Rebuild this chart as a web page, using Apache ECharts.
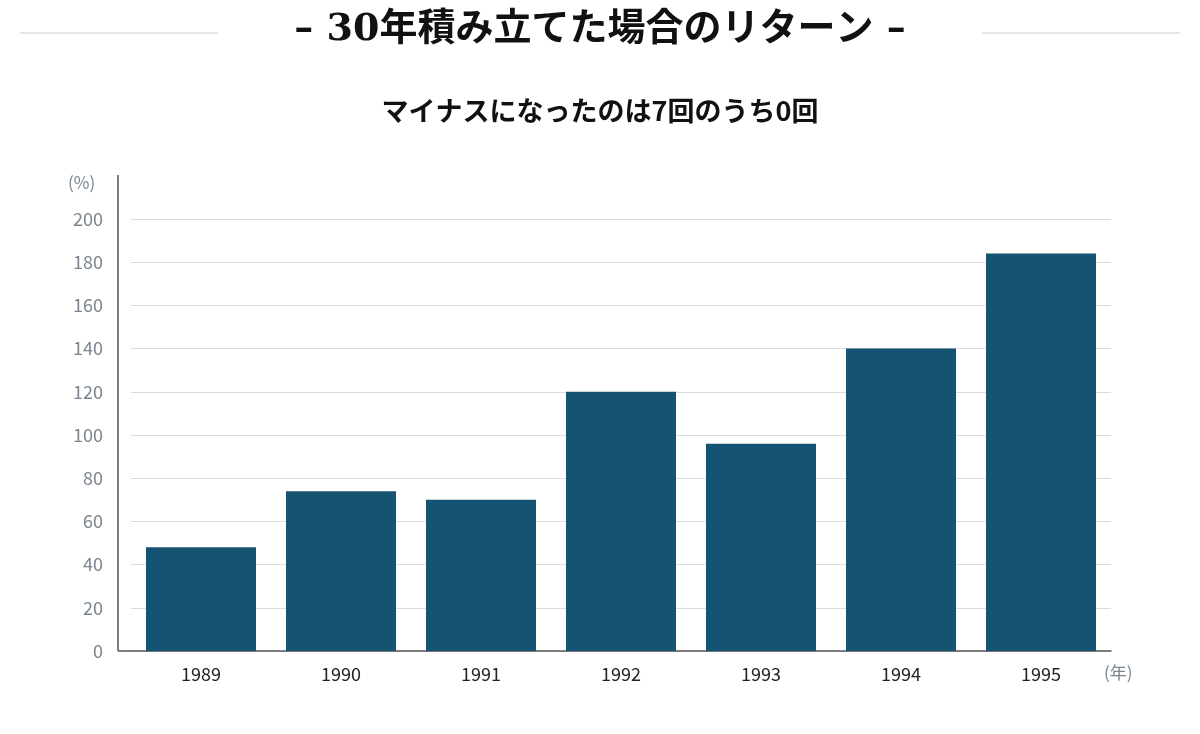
<!DOCTYPE html>
<html><head><meta charset="utf-8">
<script src="https://cdn.jsdelivr.net/npm/echarts@6/dist/echarts.min.js"></script>
<style>body{margin:0;background:#fff}#c{width:1200px;height:734px}</style>
</head><body><div id="c"></div>
<script>
var years = ['1989', '1990', '1991', '1992', '1993', '1994', '1995'];
var returns = [48, 74, 70, 120, 96, 140, 184];
var yTicks = [0, 200, 20]; // min, max, interval

var chart = echarts.init(document.getElementById('c'));
var option = {
	backgroundColor: '#fff',
	title: [{
		text: '– 30年積み立てた場合のリターン –',
		left: 'center', top: 6,
		textStyle: {fontFamily: 'DejaVu Serif, Noto Sans CJK JP', fontSize: 38, fontWeight: 'bold', color: '#111'}
	}, {
		text: '{a|マイナスになったのは7回のうち}{b|0回}',
		left: 'center', top: 92,
		textStyle: {rich: {
			a: {fontFamily: 'Noto Sans CJK JP', fontSize: 27, color: '#111'},
			b: {fontFamily: 'Noto Sans CJK JP', fontSize: 27, fontWeight: 'bold', color: '#111'}
		}}
	}],
	graphic: [
		{type: 'line', shape: {x1: 20, y1: 33, x2: 218, y2: 33}, style: {stroke: '#ccc', lineWidth: 1}},
		{type: 'line', shape: {x1: 982, y1: 33, x2: 1180, y2: 33}, style: {stroke: '#ccc', lineWidth: 1}},
		{type: 'line', shape: {x1: 118, y1: 175, x2: 118, y2: 651}, style: {stroke: '#555', lineWidth: 1.5}},
		{type: 'line', shape: {x1: 118, y1: 651, x2: 131, y2: 651}, style: {stroke: '#555', lineWidth: 1.5}},
		{type: 'text', left: 68, top: 174, style: {text: '(%)', fill: '#7a8590', font: '17px Noto Sans CJK JP'}},
		{type: 'text', left: 1104, top: 664, style: {text: '(年)', fill: '#7a8590', font: '17px Noto Sans CJK JP'}}
	],
	grid: {left: 131, right: 89, top: 219, bottom: 83},
	xAxis: {
		type: 'category',
		data: years,
		axisLine: {lineStyle: {color: '#555', width: 1.5}},
		axisTick: {length: 5, lineStyle: {color: '#555'}},
		axisLabel: {color: '#222', fontSize: 18, margin: 14, fontFamily: 'Noto Sans CJK JP'}
	},
	yAxis: {
		type: 'value',
		min: yTicks[0], max: yTicks[1], interval: yTicks[2],
		axisLine: {show: false},
		axisTick: {show: false},
		axisLabel: {color: '#7a8590', fontSize: 18, margin: 28, fontFamily: 'Noto Sans CJK JP'},
		splitLine: {lineStyle: {color: '#dcdcdc'}}
	},
	series: [{
		type: 'bar',
		data: returns,
		barWidth: 110,
		itemStyle: {color: '#145372'}
	}]
};
chart.setOption(option);
</script>
</body></html>
